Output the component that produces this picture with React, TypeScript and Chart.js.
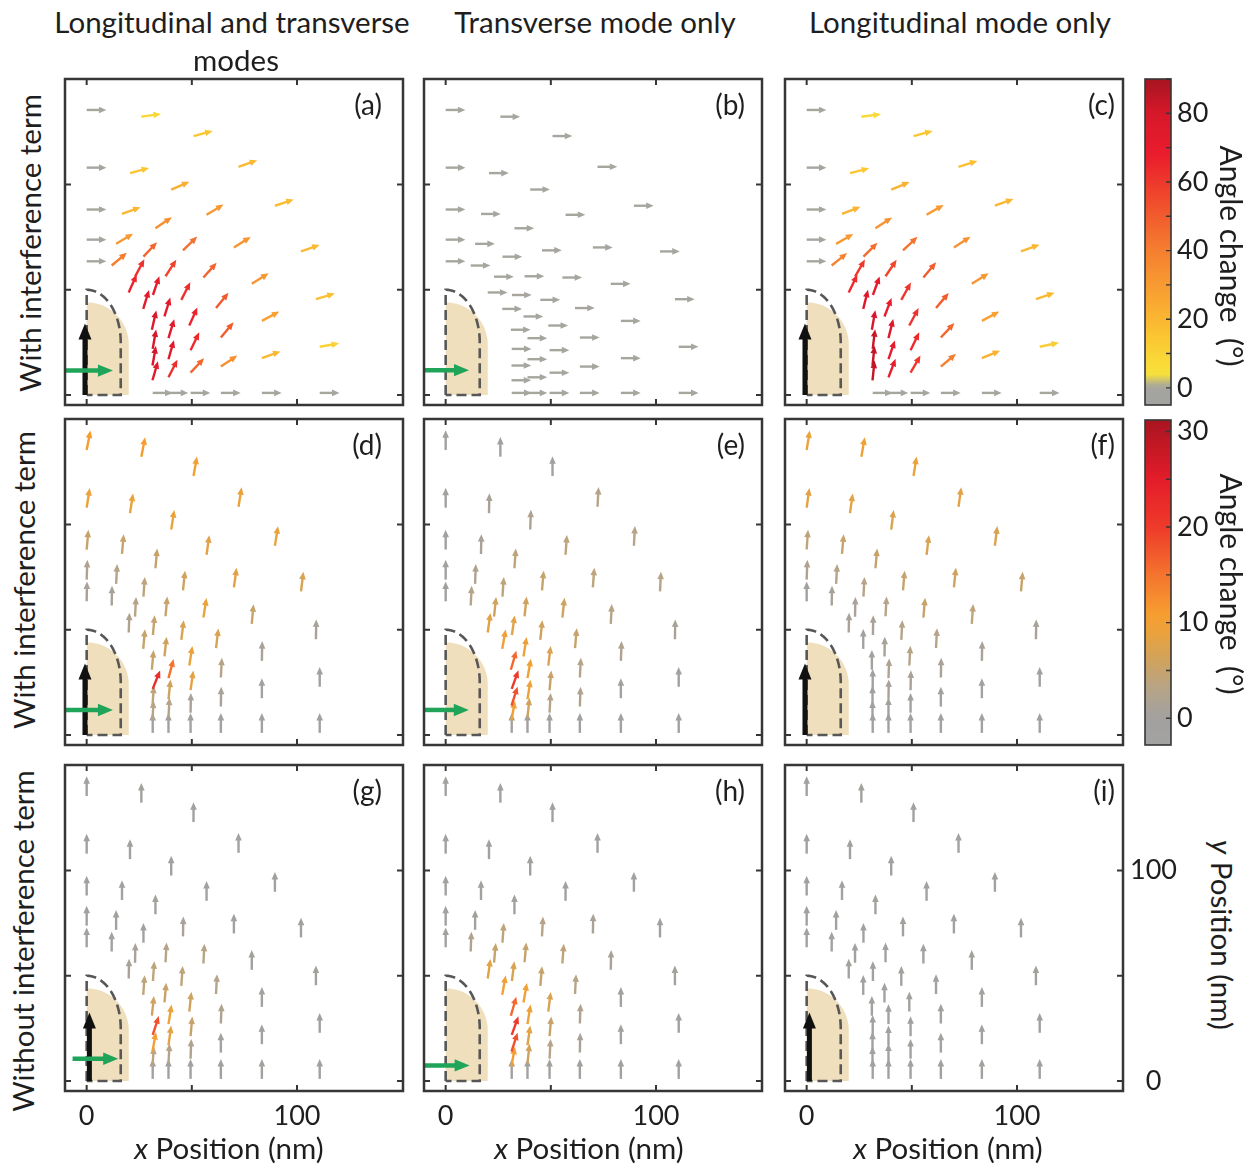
import { useEffect, useRef } from 'react';
import { Chart, registerables } from 'chart.js';

Chart.register(...registerables);

const FONT = 'Lato, "Open Sans", "Noto Sans", sans-serif';
const TEXT_COLOR = '#1e1e1e';

// Sample points (nm). Nine rays from the origin (A along x ... I along y), six radii each.
const POS_X = [
  31.4, 38.9, 49.4, 63.8, 83.3, 110.8, // A
  31.3, 38.9, 49.4, 63.8, 83.3, 110.8, // B
  31.3, 38.9, 49.4, 63.8, 83.3, 109.0, // C
  31.4, 38.9, 48.8, 61.5, 78.5, 101.9, // D
  31.0, 37.0, 45.0, 55.5, 70.0, 89.5, // E
  26.9, 31.5, 37.5, 45.8, 57.0, 72.2, // F
  20.0, 23.0, 27.0, 32.7, 40.2, 50.8, // G
  11.9, 14.0, 16.8, 20.6, 26.0, // H
  0, 0, 0, 0, 0, // I
];
const POS_Y = [
  1, 1, 1, 1, 1, 1,
  7.0, 8.4, 10.6, 13.5, 17.5, 22.9,
  14.0, 17.0, 21.3, 27.3, 35.2, 45.5,
  21.9, 27.0, 33.0, 41.3, 52.8, 68.2,
  31.0, 37.3, 45.2, 55.8, 70.1, 89.9,
  40.9, 47.5, 56.4, 68.7, 85.6, 108.4,
  48.7, 56.2, 65.7, 79.2, 97.6, 123.0,
  61.5, 71.8, 86.0, 105.4, 132.2,
  63.5, 73.8, 88.1, 108.0, 135.4,
];

// Angle change (deg) at every sample point, one list per panel (same point order).
const CHANGE_A = [
  0, 0, 0, 0, 0, 0,
  74, 63, 47, 34, 20, 10,
  80, 74, 64, 50, 28, 17,
  80, 73, 66, 51, 32, 19,
  77, 73, 63, 48, 32, 18,
  73, 71, 57, 44, 31, 19,
  66, 62, 47, 34, 23, 15,
  40, 31, 20, 15, 8,
  0, 0, 0, 0, 0,
];
const CHANGE_B = [
  0, 0, 0, 0, 0, 0,
  0, 0, 0, 0, 0, 0,
  0, 0, 0, 0, 0, 0,
  0, 0, 0, 0, 0, 0,
  0, 0, 0, 0, 0, 0,
  0, 0, 0, 0, 0, 0,
  0, 0, 0, 0, 0, 0,
  0, 0, 0, 0, 0,
  0, 0, 0, 0, 0,
];
const CHANGE_C = [
  0, 0, 0, 0, 0, 0,
  84, 69, 60, 40, 22, 12,
  84, 71, 64, 47, 28, 19,
  83, 76, 62, 50, 32, 20,
  80, 69, 61, 50, 33, 20,
  76, 70, 56, 43, 30, 17,
  64, 60, 45, 33, 22, 15,
  39, 30, 21, 14, 7,
  0, 0, 0, 0, 0,
];
const CHANGE_D = [
  0, 0, 0, 0, 0, 0,
  3, 3, 1, 1, 0, 0,
  4, 6, 8, 3, 1, 1,
  22, 15, 9, 7, 5, 7,
  5, 6, 7, 9, 8, 9,
  5, 5, 5, 6, 8, 9,
  2, 3, 4, 5, 9, 10,
  1, 3, 5, 9, 11,
  1, 2, 5, 9, 11,
];
const CHANGE_E = [
  0, 0, 0, 0, 0, 0,
  10, 6, 3, 2, 0, 0,
  18, 9, 5, 3, 2, 1,
  20, 10, 7, 5, 3, 3,
  16, 9, 6, 6, 4, 3,
  10, 8, 6, 5, 4, 3,
  8, 6, 4, 4, 2, 0,
  3, 2, 1, 1, 0,
  0, 0, 0, 0, 0,
];
const CHANGE_F = [
  0, 0, 0, 0, 0, 0,
  0, 0, 0, 0, 0, 0,
  0, 1, 1, 1, 1, 1,
  0, 2, 3, 3, 4, 5,
  0, 1, 3, 5, 6, 7,
  0, 1, 3, 5, 7, 8,
  1, 1, 3, 5, 7, 9,
  1, 3, 5, 8, 10,
  0, 2, 4, 8, 9,
];
const CHANGE_G = [
  0, 0, 0, 0, 0, 0,
  4, 3, 2, 0, 0, 0,
  10, 8, 5, 2, 0, 0,
  18, 9, 6, 3, 0, 0,
  6, 5, 4, 3, 0, 0,
  4, 4, 3, 1, 0, 0,
  1, 1, 0, 0, 0, 0,
  0, 0, 0, 0, 0,
  0, 0, 0, 0, 0,
];
const CHANGE_H = [
  0, 0, 0, 0, 0, 0,
  10, 6, 3, 1, 0, 0,
  18, 8, 5, 2, 0, 0,
  20, 9, 7, 3, 1, 0,
  16, 10, 5, 4, 1, 0,
  10, 7, 5, 3, 0, 0,
  8, 5, 4, 0, 0, 0,
  2, 0, 0, 0, 0,
  0, 0, 0, 0, 0,
];
const CHANGE_I = [
  0, 0, 0, 0, 0, 0,
  0, 0, 0, 0, 0, 0,
  0, 0, 0, 0, 0, 0,
  0, 0, 0, 0, 0, 0,
  0, 0, 0, 0, 0, 0,
  0, 0, 0, 0, 0, 0,
  0, 0, 0, 0, 0, 0,
  0, 0, 0, 0, 0,
  0, 0, 0, 0, 0,
];

// Axis ticks (nm)
const X_TICKS = [0, 50, 100];
const X_TICK_LABELS = [0, 100];
const Y_TICKS = [0, 50, 100];
const Y_TICK_LABELS = [0, 100];

// Colour bars
const CB_WIDE_TICKS = [0, 10, 20, 30, 40, 50, 60, 70, 80, 90];
const CB_WIDE_LABELS = [0, 20, 40, 60, 80];
const CB_NARROW_TICKS = [0, 5, 10, 15, 20, 25, 30];
const CB_NARROW_LABELS = [0, 10, 20, 30];

// Colormaps: angle change (deg) -> colour
const CMAP_WIDE_VALUES = [-5, 0.5, 4, 15, 25, 40, 55, 68, 80, 90];
const CMAP_WIDE_COLORS = ['#a2a2a2', '#a6a59e', '#f8e23a', '#fbc532', '#f9a832', '#f57f30', '#f04a2c', '#ea1c2c', '#d6182a', '#a61420'];
const CMAP_NARROW_VALUES = [-2.8, 0.3, 3, 6, 9, 11, 15, 20, 25, 31.2];
const CMAP_NARROW_COLORS = ['#a2a2a2', '#a3a19e', '#b6a488', '#cfa35e', '#eba23c', '#f79d30', '#f4742e', '#ee3a2a', '#e41c2a', '#a81520'];

// Probe geometry and excitation arrows (nm)
const TIP_HALF_WIDTH = 20;
const TIP_SHAFT_TOP = 24;
const TIP_CAP = 20;
const OUTLINE_HALF_WIDTH = 16.2;
const OUTLINE_CENTER = 25;
const OUTLINE_CAP = 25;
const BLACK_UPPER = { x: -0.8, y0: 0, y1: 34 };
const BLACK_LOWER = { x: 1.3, y0: 0, y1: 32.5 };
const GREEN_A = { y: 11.6, x0: -10.3, x1: 12.5 };
const GREEN_B = { y: 11.8, x0: -10.4, x1: 11.1 };
const GREEN_D = { y: 11.9, x0: -10.3, x1: 12.5 };
const GREEN_E = { y: 11.9, x0: -10.4, x1: 11.0 };
const GREEN_G = { y: 10.6, x0: -6.7, x1: 15.0 };
const GREEN_H = { y: 7.4, x0: -10.4, x1: 11.4 };

const ARROW_LEN = 9.4;

// Layout
const X_MIN = -10.3;
const X_MAX = 150.4;
const Y_MIN = -4.75;
const Y_MAX = 150.1;
const COL_LEFT = [65, 424, 785];
const ROW_TOP = [79, 419, 765];
const PANEL_W = 338;
const PANEL_H = 326;
const PAD = 4;
const X_AXIS_H = 50;
const Y_AXIS_W = 80;
const TITLE_SIZE = 29.5;
const CB_MARGIN = 20;

type Arrow = { x: number; y0: number; y1: number };
type HArrow = { y: number; x0: number; x1: number };
type Spec = {
  key: string;
  row: number;
  col: number;
  change: number[];
  vertical: boolean;
  wide: boolean;
  black?: Arrow;
  green?: HArrow;
};

const PANELS: Spec[] = [
  { key: 'a', row: 0, col: 0, change: CHANGE_A, vertical: false, wide: true, black: BLACK_UPPER, green: GREEN_A },
  { key: 'b', row: 0, col: 1, change: CHANGE_B, vertical: false, wide: true, green: GREEN_B },
  { key: 'c', row: 0, col: 2, change: CHANGE_C, vertical: false, wide: true, black: BLACK_UPPER },
  { key: 'd', row: 1, col: 0, change: CHANGE_D, vertical: true, wide: false, black: BLACK_UPPER, green: GREEN_D },
  { key: 'e', row: 1, col: 1, change: CHANGE_E, vertical: true, wide: false, green: GREEN_E },
  { key: 'f', row: 1, col: 2, change: CHANGE_F, vertical: true, wide: false, black: BLACK_UPPER },
  { key: 'g', row: 2, col: 0, change: CHANGE_G, vertical: true, wide: false, black: BLACK_LOWER, green: GREEN_G },
  { key: 'h', row: 2, col: 1, change: CHANGE_H, vertical: true, wide: false, green: GREEN_H },
  { key: 'i', row: 2, col: 2, change: CHANGE_I, vertical: true, wide: false, black: BLACK_LOWER },
];

function hexToRgb(h: string) {
  const n = parseInt(h.slice(1), 16);
  return [(n >> 16) & 255, (n >> 8) & 255, n & 255];
}

function colorAt(vals: number[], cols: string[], v: number) {
  if (v <= vals[0]) return cols[0];
  for (let i = 1; i < vals.length; i++) {
    if (v <= vals[i]) {
      const t = (v - vals[i - 1]) / (vals[i] - vals[i - 1]);
      const a = hexToRgb(cols[i - 1]);
      const b = hexToRgb(cols[i]);
      const c = a.map((av, k) => Math.round(av + (b[k] - av) * t));
      return `rgb(${c[0]},${c[1]},${c[2]})`;
    }
  }
  return cols[cols.length - 1];
}

function drawArrow(
  ctx: CanvasRenderingContext2D,
  x0: number, y0: number, x1: number, y1: number,
  color: string, lw: number, headLen: number, headHalf: number,
) {
  const dx = x1 - x0;
  const dy = y1 - y0;
  const len = Math.hypot(dx, dy) || 1;
  const ux = dx / len;
  const uy = dy / len;
  const bx = x1 - ux * headLen;
  const by = y1 - uy * headLen;
  ctx.strokeStyle = color;
  ctx.lineWidth = lw;
  ctx.lineCap = 'butt';
  ctx.beginPath();
  ctx.moveTo(x0, y0);
  ctx.lineTo(bx + ux, by + uy);
  ctx.stroke();
  ctx.fillStyle = color;
  ctx.beginPath();
  ctx.moveTo(x1, y1);
  ctx.lineTo(bx - uy * headHalf, by + ux * headHalf);
  ctx.lineTo(bx + uy * headHalf, by - ux * headHalf);
  ctx.closePath();
  ctx.fill();
}

// Keeps a scale from reserving room for its outer tick labels.
function noLabelOverhang(s: any) {
  s.paddingTop = 0;
  s.paddingBottom = 0;
  s.paddingLeft = 0;
  s.paddingRight = 0;
}

function panelPlugin(spec: Spec) {
  const vals = spec.wide ? CMAP_WIDE_VALUES : CMAP_NARROW_VALUES;
  const cols = spec.wide ? CMAP_WIDE_COLORS : CMAP_NARROW_COLORS;
  return {
    id: 'quiver_' + spec.key,
    beforeDatasetsDraw(chart: any) {
      const { ctx, chartArea } = chart;
      const xs = chart.scales.x;
      const ys = chart.scales.y;
      const px = (x: number) => xs.getPixelForValue(x);
      const py = (y: number) => ys.getPixelForValue(y);
      ctx.save();
      ctx.beginPath();
      ctx.rect(chartArea.left, chartArea.top, chartArea.right - chartArea.left, chartArea.bottom - chartArea.top);
      ctx.clip();
      // probe body
      ctx.beginPath();
      ctx.moveTo(px(0), py(0));
      ctx.lineTo(px(TIP_HALF_WIDTH), py(0));
      for (let k = 0; k <= 48; k++) {
        const t = (k / 48) * Math.PI / 2;
        ctx.lineTo(px(TIP_HALF_WIDTH * Math.cos(t)), py(TIP_SHAFT_TOP + TIP_CAP * Math.sin(t)));
      }
      ctx.closePath();
      ctx.fillStyle = '#efdfbd';
      ctx.fill();
      // dashed outline
      ctx.beginPath();
      ctx.moveTo(px(0), py(0));
      for (let k = 0; k <= 48; k++) {
        const t = Math.PI / 2 - (k / 48) * Math.PI / 2;
        ctx.lineTo(px(OUTLINE_HALF_WIDTH * Math.cos(t)), py(OUTLINE_CENTER + OUTLINE_CAP * Math.sin(t)));
      }
      ctx.lineTo(px(OUTLINE_HALF_WIDTH), py(0));
      ctx.lineTo(px(0), py(0));
      ctx.setLineDash([10, 5]);
      ctx.lineWidth = 2.6;
      ctx.strokeStyle = '#575757';
      ctx.stroke();
      ctx.setLineDash([]);
      ctx.restore();
    },
    afterDatasetsDraw(chart: any) {
      const { ctx, chartArea } = chart;
      const xs = chart.scales.x;
      const ys = chart.scales.y;
      const px = (x: number) => xs.getPixelForValue(x);
      const py = (y: number) => ys.getPixelForValue(y);
      ctx.save();
      const meta = chart.getDatasetMeta(0);
      meta.data.forEach((el: any, i: number) => {
        const ch = spec.change[i];
        const theta = ((spec.vertical ? 90 - ch : ch) * Math.PI) / 180;
        const hx = px(POS_X[i] + ARROW_LEN * Math.cos(theta));
        const hy = py(POS_Y[i] + ARROW_LEN * Math.sin(theta));
        drawArrow(ctx, el.x, el.y, hx, hy, colorAt(vals, cols, ch), 2.4, 7.5, 3.3);
      });
      if (spec.black) {
        const b = spec.black;
        drawArrow(ctx, px(b.x), py(b.y0), px(b.x), py(b.y1), '#111111', 5, 16, 6.5);
      }
      if (spec.green) {
        const g = spec.green;
        drawArrow(ctx, px(g.x0), py(g.y), px(g.x1), py(g.y), '#1fa45a', 4.5, 15, 6.2);
      }
      // frame and inward ticks
      ctx.strokeStyle = '#363636';
      ctx.lineWidth = 2.5;
      ctx.strokeRect(chartArea.left, chartArea.top, chartArea.right - chartArea.left, chartArea.bottom - chartArea.top);
      ctx.lineWidth = 2;
      ctx.beginPath();
      X_TICKS.forEach((v) => {
        const x = px(v);
        ctx.moveTo(x, chartArea.top);
        ctx.lineTo(x, chartArea.top + 6);
        ctx.moveTo(x, chartArea.bottom);
        ctx.lineTo(x, chartArea.bottom - 6);
      });
      Y_TICKS.forEach((v) => {
        const y = py(v);
        ctx.moveTo(chartArea.left, y);
        ctx.lineTo(chartArea.left + 6, y);
        ctx.moveTo(chartArea.right, y);
        ctx.lineTo(chartArea.right - 6, y);
      });
      ctx.stroke();
      ctx.restore();
    },
  };
}

function colorbarPlugin(wide: boolean) {
  const vals = wide ? CMAP_WIDE_VALUES : CMAP_NARROW_VALUES;
  const cols = wide ? CMAP_WIDE_COLORS : CMAP_NARROW_COLORS;
  const ticks = wide ? CB_WIDE_TICKS : CB_NARROW_TICKS;
  return {
    id: 'colorbar_' + (wide ? 'wide' : 'narrow'),
    beforeDraw(chart: any) {
      const { ctx, chartArea } = chart;
      const ys = chart.scales.y;
      const lo = ys.min;
      const hi = ys.max;
      ctx.save();
      const grad = ctx.createLinearGradient(0, ys.getPixelForValue(lo), 0, ys.getPixelForValue(hi));
      const steps = 64;
      for (let k = 0; k <= steps; k++) {
        const v = lo + ((hi - lo) * k) / steps;
        grad.addColorStop(k / steps, colorAt(vals, cols, v));
      }
      ctx.fillStyle = grad;
      ctx.fillRect(chartArea.left, chartArea.top, chartArea.right - chartArea.left, chartArea.bottom - chartArea.top);
      ctx.strokeStyle = '#363636';
      ctx.lineWidth = 1.6;
      ctx.strokeRect(chartArea.left, chartArea.top, chartArea.right - chartArea.left, chartArea.bottom - chartArea.top);
      ctx.lineWidth = 1.4;
      ctx.beginPath();
      ticks.forEach((v) => {
        const y = ys.getPixelForValue(v);
        ctx.moveTo(chartArea.right, y);
        ctx.lineTo(chartArea.right - 5, y);
      });
      ctx.stroke();
      ctx.restore();
    },
  };
}

function Panel({ spec }: { spec: Spec }) {
  const ref = useRef<HTMLCanvasElement>(null);
  const showX = spec.row === 2;
  const showY = spec.key === 'i';
  const width = PANEL_W + PAD + (showY ? Y_AXIS_W : PAD);
  const height = PANEL_H + PAD + (showX ? X_AXIS_H : PAD);
  useEffect(() => {
    if (!ref.current) return;
    const chart = new Chart(ref.current, {
      type: 'scatter',
      data: {
        datasets: [
          {
            data: POS_X.map((x, i) => ({ x, y: POS_Y[i] })),
            pointRadius: 0,
            pointHoverRadius: 0,
          },
        ],
      },
      options: {
        responsive: false,
        animation: false,
        events: [],
        layout: { padding: { left: PAD, top: PAD, right: showY ? 0 : PAD, bottom: showX ? 0 : PAD } },
        plugins: { legend: { display: false }, tooltip: { enabled: false } },
        scales: {
          x: {
            type: 'linear',
            min: X_MIN,
            max: X_MAX,
            display: showX,
            position: 'bottom',
            afterBuildTicks: (s: any) => {
              s.ticks = X_TICKS.map((v) => ({ value: v }));
            },
            afterFit: (s: any) => {
              if (showX) s.height = X_AXIS_H;
              noLabelOverhang(s);
            },
            grid: { display: false, drawTicks: false },
            border: { display: false },
            ticks: {
              padding: 9,
              autoSkip: false,
              maxRotation: 0,
              color: TEXT_COLOR,
              font: { family: FONT, size: 27 },
              callback: (v: any) => (X_TICK_LABELS.includes(Number(v)) ? String(v) : ''),
            },
          },
          y: {
            type: 'linear',
            min: Y_MIN,
            max: Y_MAX,
            display: showY,
            position: 'right',
            afterBuildTicks: (s: any) => {
              s.ticks = Y_TICKS.map((v) => ({ value: v }));
            },
            afterFit: (s: any) => {
              if (showY) s.width = Y_AXIS_W;
              noLabelOverhang(s);
            },
            grid: { display: false, drawTicks: false },
            border: { display: false },
            ticks: {
              padding: 7,
              crossAlign: 'center',
              autoSkip: false,
              color: TEXT_COLOR,
              font: { family: FONT, size: 27 },
              callback: (v: any) => (Y_TICK_LABELS.includes(Number(v)) ? String(v) : ''),
            },
          },
        },
      } as any,
      plugins: [panelPlugin(spec)],
    });
    return () => chart.destroy();
  }, [spec]);
  return (
    <canvas
      ref={ref}
      width={width}
      height={height}
      style={{ position: 'absolute', left: COL_LEFT[spec.col] - PAD, top: ROW_TOP[spec.row] - PAD, width, height }}
    />
  );
}

function ColorBar({ wide, left, top, height }: { wide: boolean; left: number; top: number; height: number }) {
  const ref = useRef<HTMLCanvasElement>(null);
  const barW = 26;
  const axisW = 64;
  const width = 2 + barW + axisW;
  const h = height + 2 * CB_MARGIN;
  useEffect(() => {
    if (!ref.current) return;
    const chart = new Chart(ref.current, {
      type: 'scatter',
      data: { datasets: [] },
      options: {
        responsive: false,
        animation: false,
        events: [],
        layout: { padding: { left: 2, top: CB_MARGIN, bottom: CB_MARGIN, right: 0 } },
        plugins: { legend: { display: false }, tooltip: { enabled: false } },
        scales: {
          x: { type: 'linear', display: false, min: 0, max: 1 },
          y: {
            type: 'linear',
            position: 'right',
            min: wide ? CMAP_WIDE_VALUES[0] : CMAP_NARROW_VALUES[0],
            max: wide ? CMAP_WIDE_VALUES[CMAP_WIDE_VALUES.length - 1] : CMAP_NARROW_VALUES[CMAP_NARROW_VALUES.length - 1],
            afterBuildTicks: (s: any) => {
              s.ticks = (wide ? CB_WIDE_TICKS : CB_NARROW_TICKS).map((v) => ({ value: v }));
            },
            afterFit: (s: any) => {
              s.width = axisW;
              noLabelOverhang(s);
            },
            grid: { display: false, drawTicks: false },
            border: { display: false },
            ticks: {
              padding: 6,
              autoSkip: false,
              color: TEXT_COLOR,
              font: { family: FONT, size: 27 },
              callback: (v: any) =>
                (wide ? CB_WIDE_LABELS : CB_NARROW_LABELS).includes(Number(v)) ? String(v) : '',
            },
          },
        },
      } as any,
      plugins: [colorbarPlugin(wide)],
    });
    return () => chart.destroy();
  }, [wide]);
  return (
    <canvas
      ref={ref}
      width={width}
      height={h}
      style={{ position: 'absolute', left: left - 2, top: top - CB_MARGIN, width, height: h }}
    />
  );
}

function Txt({
  x, y, rot = 0, size = TITLE_SIZE, children,
}: { x: number; y: number; rot?: number; size?: number; children: any }) {
  return (
    <div
      style={{
        position: 'absolute',
        left: x,
        top: y,
        transform: `translate(-50%, -50%) rotate(${rot}deg)`,
        fontFamily: FONT,
        fontSize: size,
        lineHeight: 1,
        whiteSpace: 'pre',
        color: TEXT_COLOR,
      }}
    >
      {children}
    </div>
  );
}

function PanelTag({ spec }: { spec: Spec }) {
  const rightInset = [21, 17, 8][spec.col];
  return (
    <div
      style={{
        position: 'absolute',
        left: COL_LEFT[spec.col] + PANEL_W - rightInset,
        top: ROW_TOP[spec.row] + 25,
        transform: 'translate(-100%, -50%)',
        fontFamily: FONT,
        fontSize: 28,
        lineHeight: 1,
        color: TEXT_COLOR,
        whiteSpace: 'nowrap',
      }}
    >
      ({spec.key})
    </div>
  );
}

export default function App() {
  return (
    <div
      style={{
        position: 'absolute',
        left: 0,
        top: 0,
        width: 1256,
        height: 1165,
        background: '#ffffff',
        overflow: 'hidden',
      }}
    >
      {PANELS.map((p) => (
        <Panel key={p.key} spec={p} />
      ))}
      {PANELS.map((p) => (
        <PanelTag key={'t' + p.key} spec={p} />
      ))}
      <ColorBar wide={true} left={1145} top={79} height={326} />
      <ColorBar wide={false} left={1145} top={420} height={325} />

      <Txt x={232} y={22}>Longitudinal and transverse</Txt>
      <Txt x={236} y={60}>modes</Txt>
      <Txt x={595} y={22}>Transverse mode only</Txt>
      <Txt x={960} y={22}>Longitudinal mode only</Txt>

      <Txt x={30} y={243} rot={-90}>With interference term</Txt>
      <Txt x={24} y={580} rot={-90}>With interference term</Txt>
      <Txt x={23} y={941} rot={-90}>Without interference term</Txt>

      <Txt x={1232} y={256} rot={90} size={30}>{'Angle change  (°)'}</Txt>
      <Txt x={1232} y={584} rot={90} size={30}>{'Angle change  (°)'}</Txt>
      <Txt x={1222} y={935} rot={90}>
        <i>y</i> Position (nm)
      </Txt>

      <Txt x={229} y={1148}>
        <i>x</i> Position (nm)
      </Txt>
      <Txt x={589} y={1148}>
        <i>x</i> Position (nm)
      </Txt>
      <Txt x={948} y={1148}>
        <i>x</i> Position (nm)
      </Txt>
    </div>
  );
}
